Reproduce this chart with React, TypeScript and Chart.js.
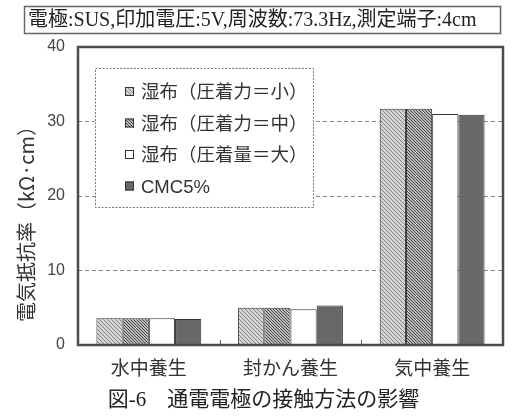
import { useEffect, useRef } from "react";
import { Chart, registerables } from "chart.js";

Chart.register(...registerables);

// Curing conditions on the x axis
const categories = ["水中養生", "封かん養生", "気中養生"];

// Contact method series (electrical resistivity, kΩ·cm)
const seriesLabels = ["湿布（圧着力＝小）", "湿布（圧着力＝中）", "湿布（圧着量＝大）", "CMC5%"];
const wetClothLow = [3.6, 5.0, 31.7];
const wetClothMid = [3.6, 5.0, 31.7];
const wetClothHigh = [3.6, 4.8, 31.0];
const cmc5 = [3.5, 5.3, 30.9];

const yTickValues = [0, 10, 20, 30, 40];

const headerText = "電極:SUS,印加電圧:5V,周波数:73.3Hz,測定端子:4cm";
const yTitle = "電気抵抗率（kΩ·cm）";
const caption = "図-6　通電電極の接触方法の影響";

const SANS = '"Liberation Sans", "Noto Sans CJK JP", sans-serif';
const CJK = '"Noto Sans CJK JP", sans-serif';
const SERIF = '"Liberation Serif", "Noto Sans CJK JP", serif';

function hatch(base: string, line: string, size: number, width: number): CanvasPattern | string {
  const c = document.createElement("canvas");
  c.width = size;
  c.height = size;
  const ctx = c.getContext("2d");
  if (!ctx) return base;
  ctx.fillStyle = base;
  ctx.fillRect(0, 0, size, size);
  ctx.strokeStyle = line;
  ctx.lineWidth = width;
  for (let k = -1; k <= 1; k++) {
    ctx.beginPath();
    ctx.moveTo(0, k * size);
    ctx.lineTo(size, size + k * size);
    ctx.stroke();
  }
  return ctx.createPattern(c, "repeat") || base;
}

const decorations = {
  id: "decorations",
  afterDatasetsDraw(chart: Chart) {
    const { ctx, chartArea } = chart;
    const { left, right, top, bottom } = chartArea;
    ctx.save();

    // small inward ticks between categories
    const x = chart.scales.x;
    ctx.strokeStyle = "#555";
    ctx.lineWidth = 1;
    for (let i = 0; i < categories.length - 1; i++) {
      const bx = (x.getPixelForValue(i) + x.getPixelForValue(i + 1)) / 2;
      ctx.beginPath();
      ctx.moveTo(Math.round(bx) + 0.5, bottom);
      ctx.lineTo(Math.round(bx) + 0.5, bottom - 5);
      ctx.stroke();
    }

    // plot frame
    ctx.strokeStyle = "#4d4d4d";
    ctx.lineWidth = 2.5;
    ctx.strokeRect(left, top, right - left, bottom - top);

    // legend box inside the plot
    const lx = left + 17;
    const ly = top + 21;
    const lw = 218;
    const lh = 139;
    ctx.fillStyle = "#fff";
    ctx.fillRect(lx, ly, lw, lh);
    ctx.setLineDash([2, 1.5]);
    ctx.strokeStyle = "#777";
    ctx.lineWidth = 1;
    ctx.strokeRect(lx + 0.5, ly + 0.5, lw, lh);
    ctx.setLineDash([]);

    ctx.font = `18.5px ${SANS}`;
    ctx.textBaseline = "middle";
    ctx.textAlign = "left";
    chart.data.datasets.forEach((ds, i) => {
      const cy = ly + 24 + i * 31.5;
      ctx.fillStyle = ds.backgroundColor as any;
      ctx.fillRect(lx + 30, cy - 5, 9, 9);
      ctx.strokeStyle = "#333";
      ctx.lineWidth = 1;
      ctx.strokeRect(lx + 30.5, cy - 4.5, 8, 8);
      ctx.fillStyle = "#333";
      ctx.fillText(ds.label as string, lx + 46, cy + 1);
    });
    ctx.restore();
  },
  afterDraw(chart: Chart) {
    const { ctx } = chart;
    ctx.save();

    // condition header box
    ctx.strokeStyle = "#666";
    ctx.lineWidth = 1.5;
    ctx.strokeRect(24.5, 6.5, 476, 27);
    ctx.fillStyle = "#222";
    ctx.font = `20px ${SERIF}`;
    ctx.textBaseline = "middle";
    ctx.textAlign = "left";
    ctx.fillText(headerText, 28, 20.5);

    // y axis title
    ctx.save();
    ctx.translate(26, 219);
    ctx.rotate(-Math.PI / 2);
    ctx.font = `20px ${CJK}`;
    ctx.fillStyle = "#333";
    ctx.textAlign = "center";
    ctx.fillText(yTitle, 0, 0);
    ctx.restore();

    // figure caption
    ctx.font = `21px ${SERIF}`;
    ctx.fillStyle = "#222";
    ctx.textAlign = "center";
    ctx.fillText(caption, (chart.width as number) / 2, 400);
    ctx.restore();
  },
};

export default function App() {
  const ref = useRef<HTMLCanvasElement | null>(null);

  useEffect(() => {
    if (!ref.current) return;
    const colors = [
      hatch("#d4d4d4", "#858585", 4, 1),
      hatch("#bcbcbc", "#474747", 3, 1),
      "#ffffff",
      "#686868",
    ];
    const values = [wetClothLow, wetClothMid, wetClothHigh, cmc5];
    const chart = new Chart(ref.current, {
      type: "bar",
      data: {
        labels: categories,
        datasets: values.map((data, i) => ({
          label: seriesLabels[i],
          data,
          backgroundColor: colors[i] as any,
          borderColor: "#333",
          borderWidth: 1,
          categoryPercentage: 0.74,
          barPercentage: 1,
        })),
      },
      options: {
        responsive: false,
        animation: false,
        events: [],
        layout: { padding: { left: 0, right: 24, top: 47, bottom: 0 } },
        plugins: {
          legend: { display: false },
          tooltip: { enabled: false },
          title: { display: false },
        },
        scales: {
          x: {
            grid: { display: false },
            border: { display: false },
            ticks: { font: { family: CJK, size: 19 }, color: "#333", padding: 3 },
            afterFit: (s: any) => {
              s.height = 73;
            },
          },
          y: {
            min: 0,
            max: 40,
            afterBuildTicks: (s: any) => {
              s.ticks = yTickValues.map((v) => ({ value: v }));
            },
            ticks: { font: { family: SANS, size: 16 }, color: "#444", padding: 13 },
            grid: { color: "#888", lineWidth: 1, drawTicks: false },
            border: { display: false, dash: [4, 3] },
            afterFit: (s: any) => {
              s.width = 78;
            },
          },
        },
      },
      plugins: [decorations],
    });
    return () => chart.destroy();
  }, []);

  return (
    <div style={{ position: "fixed", left: 0, top: 0, width: 527, height: 418, background: "#fff" }}>
      <canvas ref={ref} width={527} height={418} style={{ width: 527, height: 418 }} />
    </div>
  );
}
